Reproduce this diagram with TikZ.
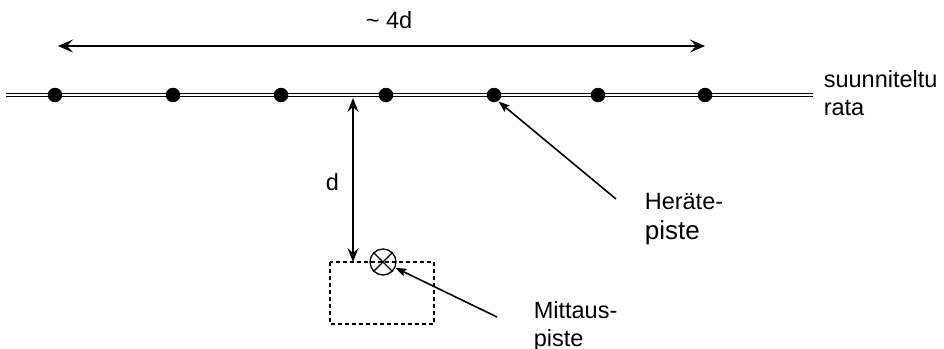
\documentclass[tikz,border=0pt]{standalone}
\usepackage{fontspec}
\setmainfont{Liberation Sans}
\usetikzlibrary{arrows.meta}

\begin{document}
\begin{tikzpicture}[x=1pt,y=-1pt,line width=1.6pt,
   dot/.style={circle,fill,inner sep=0pt,minimum size=14.5pt},
   lbl/.style={inner sep=0pt,anchor=base west,align=left,font=\fontsize{23.5}{28}\selectfont},
   tip/.tip={Stealth[length=15pt,width=13pt,inset=6pt]},
   small/.style={-{Stealth[length=11pt,width=8pt,inset=2pt]}}]
   \useasboundingbox (0,0) rectangle (944,348);
   \coordinate (tl) at (6,95);
   \coordinate (tr) at (813,95);
   \draw[line width=1.1pt,double,double distance=2.3pt] (tl) -- (tr);
   \foreach \i/\x in {1/55,2/173,3/281,4/386,5/494,6/598,7/705}
      \node[dot] (p\i) at (\x,95) {};
   \coordinate (wl) at (58,46);
   \coordinate (wr) at (705,46);
   \draw[tip-tip] (wl) -- (wr);
   \node[lbl] (w) at (365,28) {\textasciitilde\ 4d};
   \node[circle,draw,line width=1.3pt,minimum size=26pt,inner sep=0pt] (mp) at (383,262) {};
   \draw[line width=1.3pt] (mp.45) -- (mp.225) (mp.135) -- (mp.-45);
   \draw[dashed,line width=1.1pt,dash pattern=on 4pt off 3pt] (330,262) rectangle (434,324);
   \coordinate (d1) at (353,98);
   \coordinate (d2) at (353,262);
   \draw[{Stealth[length=14pt,width=11pt,inset=5pt]}-{Stealth[length=14pt,width=11pt,inset=5pt]}] (d1) -- (d2);
   \node[lbl] (d) at (325,190) {d};
   \node[lbl] (rata) at (823,115) {suunniteltu\\rata};
   \node[lbl] (her) at (644,239) {Heräte-\\[2pt]{\fontsize{26}{30}\selectfont piste}};
   \node[lbl] (mit) at (533,346) {Mittaus-\\piste};
   \coordinate (h0) at (616,199);
   \coordinate (m0) at (497,317);
   \draw[small] (h0) -- (p5.-55);
   \draw[small] (m0) -- (mp.-25);
\end{tikzpicture}
\end{document}
